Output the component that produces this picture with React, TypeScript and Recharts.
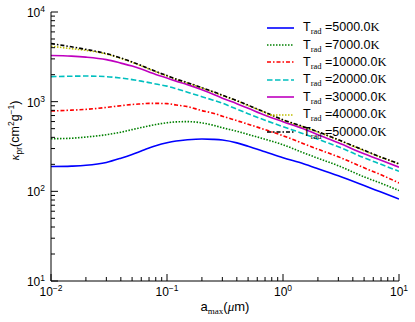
import { LineChart, Line, XAxis, YAxis, Legend } from 'recharts';

// grain size a_max (um) and Planck-mean radiation pressure opacity per T_rad
const aMax = [
  0.01, 0.015, 0.02, 0.03, 0.04, 0.05, 0.06, 0.07, 0.08, 0.1, 0.12, 0.15, 0.2,
  0.25, 0.3, 0.4, 0.5, 0.7, 1, 1.5, 2, 3, 5, 7, 10,
];

const kappa5000 = [189, 191, 195, 210, 234, 258, 282, 304, 322, 348, 364, 376, 384, 380, 373, 347, 318, 276, 237, 203, 179, 149, 116, 98, 82];
const kappa7000 = [386, 391, 403, 428, 456, 488, 514, 537, 556, 582, 595, 599, 580, 546, 512, 468, 431, 381, 331, 269, 234, 193, 145, 123, 102];
const kappa10000 = [787, 804, 820, 863, 902, 930, 945, 957, 957, 950, 919, 880, 795, 744, 689, 614, 561, 487, 417, 340, 295, 243, 183, 153, 124];
const kappa20000 = [1900, 1923, 1930, 1900, 1834, 1763, 1695, 1630, 1575, 1490, 1396, 1276, 1137, 1040, 962, 825, 734, 621, 526, 439, 381, 314, 237, 200, 167];
const kappa30000 = [3270, 3222, 3141, 2945, 2692, 2493, 2307, 2148, 2014, 1832, 1695, 1549, 1361, 1213, 1094, 950, 845, 706, 598, 499, 428, 348, 262, 222, 186];
const kappa40000 = [4150, 3900, 3740, 3400, 3040, 2750, 2505, 2310, 2155, 1935, 1768, 1615, 1420, 1282, 1172, 1017, 905, 756, 624, 521, 458, 372, 284, 239, 201];
const kappa50000 = [4446, 4093, 3830, 3437, 3070, 2777, 2532, 2332, 2175, 1953, 1784, 1630, 1433, 1293, 1183, 1026, 914, 763, 630, 526, 462, 376, 287, 241, 203];

const xTicks = [
  0.01, 0.02, 0.03, 0.04, 0.05, 0.06, 0.07, 0.08, 0.09,
  0.1, 0.2, 0.3, 0.4, 0.5, 0.6, 0.7, 0.8, 0.9,
  1, 2, 3, 4, 5, 6, 7, 8, 9, 10,
];
const yTicks = [
  10, 20, 30, 40, 50, 60, 70, 80, 90,
  100, 200, 300, 400, 500, 600, 700, 800, 900,
  1000, 2000, 3000, 4000, 5000, 6000, 7000, 8000, 9000, 10000,
];

const series = [
  { key: 't5000', label: '5000.0', values: kappa5000, color: '#0000ff', dash: undefined },
  { key: 't7000', label: '7000.0', values: kappa7000, color: '#008000', dash: '1.5 1.5' },
  { key: 't10000', label: '10000.0', values: kappa10000, color: '#ff0000', dash: '4 2 1.5 2' },
  { key: 't20000', label: '20000.0', values: kappa20000, color: '#00bfbf', dash: '5.5 2.5' },
  { key: 't30000', label: '30000.0', values: kappa30000, color: '#bf00bf', dash: undefined },
  { key: 't40000', label: '40000.0', values: kappa40000, color: '#bfbf00', dash: '1.5 1.5' },
  { key: 't50000', label: '50000.0', values: kappa50000, color: '#000000', dash: '4 2 1.5 2' },
];

const rows = aMax.map((x, i) => {
  const row: Record<string, number> = { x };
  series.forEach((s) => {
    row[s.key] = s.values[i];
  });
  return row;
});

const SANS = '"Liberation Sans", Arial, Helvetica, sans-serif';
const SERIF = '"Liberation Serif", "DejaVu Serif", serif';

function isDecade(v: number) {
  const l = Math.log10(v);
  return Math.abs(l - Math.round(l)) < 1e-6;
}

function expText(v: number) {
  const e = Math.round(Math.log10(v));
  return e < 0 ? `\u2212${Math.abs(e)}` : String(e);
}

function PowerLabel({ x, y, v, anchor }: { x: number; y: number; v: number; anchor: 'middle' | 'end' }) {
  return (
    <text x={x} y={y} textAnchor={anchor} fontSize={12} fontFamily={SANS} fill="#000">
      <tspan>10</tspan>
      <tspan dy={-5} fontSize={8.5}>{expText(v)}</tspan>
    </text>
  );
}

function BottomTick(props: any) {
  const { x, y, payload } = props;
  const major = isDecade(payload.value);
  return (
    <g>
      <line x1={x} x2={x} y1={y} y2={y - (major ? 7 : 4)} stroke="#000" />
      {major && <PowerLabel x={x} y={y + 15} v={payload.value} anchor="middle" />}
    </g>
  );
}

function TopTick(props: any) {
  const { x, y, payload } = props;
  const major = isDecade(payload.value);
  return <line x1={x} x2={x} y1={y} y2={y + (major ? 7 : 4)} stroke="#000" />;
}

function LeftTick(props: any) {
  const { x, y, payload } = props;
  const major = isDecade(payload.value);
  return (
    <g>
      <line x1={x} x2={x + (major ? 7 : 4)} y1={y} y2={y} stroke="#000" />
      {major && <PowerLabel x={x - 6} y={y + 5} v={payload.value} anchor="end" />}
    </g>
  );
}

function RightTick(props: any) {
  const { x, y, payload } = props;
  const major = isDecade(payload.value);
  return <line x1={x} x2={x - (major ? 7 : 4)} y1={y} y2={y} stroke="#000" />;
}

function XTitle(props: any) {
  const { x, y, width } = props.viewBox;
  return (
    <text x={x + width / 2} y={y + 30} textAnchor="middle" fontSize={13} fontFamily={SANS} fill="#000">
      <tspan>a</tspan>
      <tspan dy={3} fontSize={9} fontFamily={SERIF}>max</tspan>
      <tspan dy={-3}>(</tspan>
      <tspan fontFamily={SERIF} fontStyle="italic">μ</tspan>
      <tspan>m)</tspan>
    </text>
  );
}

function YTitle(props: any) {
  const { y, height } = props.viewBox;
  return (
    <text
      transform={`translate(18.5, ${y + height / 2 - 16}) rotate(-90)`}
      textAnchor="middle"
      fontSize={12.5}
      fontFamily={SANS}
      fill="#000"
    >
      <tspan fontFamily={SERIF} fontStyle="italic">κ</tspan>
      <tspan dy={3} fontSize={8.5}>pr</tspan>
      <tspan dy={-3}>(cm</tspan>
      <tspan dy={-5} fontSize={8.5}>2</tspan>
      <tspan dy={5}>g</tspan>
      <tspan dy={-5} fontSize={8.5}>{'\u22121'}</tspan>
      <tspan dy={5}>)</tspan>
    </text>
  );
}

function LegendBox() {
  return (
    <div style={{ fontFamily: SANS, fontSize: 12.5, color: '#000' }}>
      {series.map((s) => (
        <div key={s.key} style={{ display: 'flex', alignItems: 'center', height: 17.4 }}>
          <svg width={27} height={6} style={{ display: 'block' }}>
            <line x1={0} x2={27} y1={3} y2={3} stroke={s.color} strokeWidth={1.6} strokeDasharray={s.dash} />
          </svg>
          <span style={{ marginLeft: 9, whiteSpace: 'nowrap', lineHeight: '14px' }}>
            T
            <span style={{ fontFamily: SERIF, fontSize: 8.5, position: 'relative', top: 3 }}>rad</span>
            {' ='}
            {s.label}
            <span style={{ fontFamily: SERIF }}>K</span>
          </span>
        </div>
      ))}
    </div>
  );
}

export default function App() {
  return (
    <div style={{ width: 415, height: 322, background: '#fff' }}>
      <style>{'body{margin:0}'}</style>
      <LineChart width={415} height={322} data={rows} margin={{ top: 12, right: 16, bottom: 0, left: 0 }}>
        <XAxis
          dataKey="x"
          type="number"
          scale="log"
          domain={[0.01, 10]}
          allowDataOverflow
          ticks={xTicks}
          interval={0}
          tickSize={0}
          tickMargin={0}
          height={41}
          stroke="#000"
          tick={(p: any) => <BottomTick {...p} />}
          label={<XTitle />}
        />
        <XAxis
          xAxisId="top"
          orientation="top"
          dataKey="x"
          type="number"
          scale="log"
          domain={[0.01, 10]}
          allowDataOverflow
          ticks={xTicks}
          interval={0}
          tickSize={0}
          tickMargin={0}
          height={0}
          stroke="#000"
          tick={(p: any) => <TopTick {...p} />}
        />
        <YAxis
          type="number"
          scale="log"
          domain={[10, 10000]}
          allowDataOverflow
          ticks={yTicks}
          interval={0}
          tickSize={0}
          tickMargin={0}
          width={51}
          stroke="#000"
          tick={(p: any) => <LeftTick {...p} />}
          label={<YTitle />}
        />
        <YAxis
          yAxisId="right"
          orientation="right"
          type="number"
          scale="log"
          domain={[10, 10000]}
          allowDataOverflow
          ticks={yTicks}
          interval={0}
          tickSize={0}
          tickMargin={0}
          width={0}
          stroke="#000"
          tick={(p: any) => <RightTick {...p} />}
        />
        <Legend
          layout="vertical"
          align="center"
          verticalAlign="middle"
          wrapperStyle={{ left: 267, top: 19, width: 'auto' }}
          content={() => <LegendBox />}
        />
        {series.map((s) => (
          <Line
            key={s.key}
            dataKey={s.key}
            name={s.label}
            type="monotone"
            stroke={s.color}
            strokeWidth={1.6}
            strokeDasharray={s.dash}
            dot={false}
            activeDot={false}
            isAnimationActive={false}
          />
        ))}
      </LineChart>
    </div>
  );
}
